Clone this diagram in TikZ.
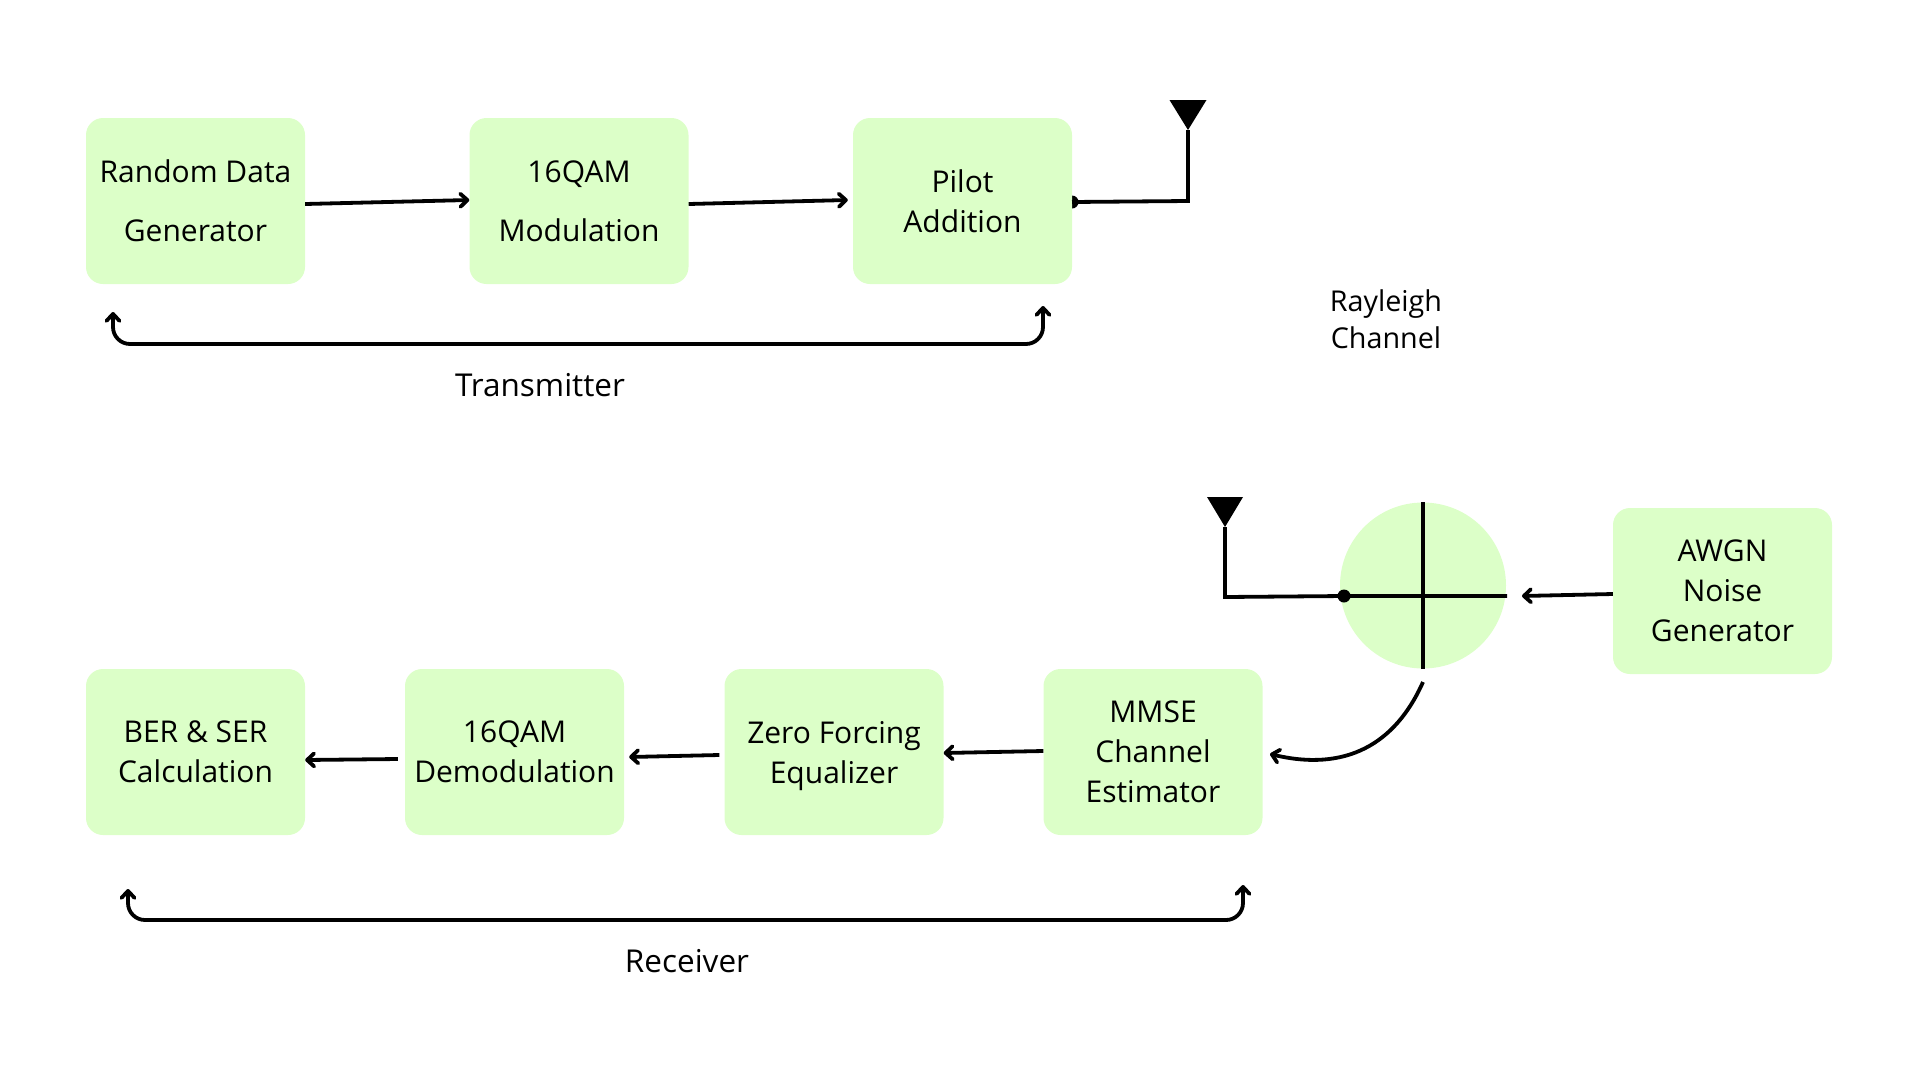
\documentclass[tikz,border=0pt]{standalone}
\usepackage{fontspec}
\setmainfont{Open Sans}
\usetikzlibrary{arrows.meta}
\definecolor{blockgreen}{HTML}{DCFFC8}
\tikzset{
    block/.style={fill=blockgreen, rounded corners=17pt, minimum width=219pt, minimum height=166pt,
        inner sep=0pt, align=center, text depth=0pt, font=\fontsize{30}{40}\selectfont},
    wideblock/.style={block, font=\fontsize{30}{59}\selectfont},
    flow/.style={line width=3.8pt, -{Straight Barb[length=7pt,width=13pt,round]}},
    bothflow/.style={flow, rounded corners=17pt, {Straight Barb[length=7pt,width=13pt,round]}-{Straight Barb[length=7pt,width=13pt,round]}},
    wire/.style={line width=3.8pt},
    caption/.style={inner sep=0pt, align=center, font=\fontsize{31.5}{40}\selectfont},
}
\begin{document}
\begin{tikzpicture}[x=1pt,y=-1pt]
    \useasboundingbox (0,0) rectangle (1920,1080);
    \fill (1072,202) circle (6.5);
    \node[wideblock] (data) at (195.5,201) {Random Data\\Generator};
    \node[wideblock] (qam) at (579,201) {16QAM\\Modulation};
    \node[block] (pilot) at (962.5,201) {Pilot\\Addition};
    \node[block] (ber) at (195.5,752) {BER \& SER\\Calculation};
    \node[block] (demod) at (514.5,752) {16QAM\\Demodulation};
    \node[block] (zf) at (834,752) {Zero Forcing\\Equalizer};
    \node[block] (mmse) at (1153,752) {MMSE\\Channel\\Estimator};
    \node[block] (awgn) at (1722.5,591) {AWGN\\Noise\\Generator};
    \node[circle, fill=blockgreen, minimum size=166pt, inner sep=0pt] (sum) at (1423,585.5) {};
    \node[caption] (tx) at (540,385) {Transmitter};
    \node[caption] (rx) at (687,961) {Receiver};
    \node[caption, font=\fontsize{28.7}{37}\selectfont] (channel) at (1386,319) {Rayleigh\\Channel};

    \coordinate (txant) at (1188,130);
    \coordinate (txcorner) at (1188,201);
    \coordinate (rxant) at (1225,527);
    \coordinate (rxcorner) at (1225,597);
    \coordinate (sumjoin) at (1344,596);
    \coordinate (sumend) at (1507,596);
    \coordinate (awgnend) at (1522,596);
    \coordinate (mmseend) at (1270,754);
    \coordinate (txleft) at (113,312);
    \coordinate (txright) at (1043,306);
    \coordinate (rxleft) at (128,889);
    \coordinate (rxright) at (1243,885);

    \draw[flow] ([yshift=-3pt]data.east) -- ([yshift=1pt]qam.west);
    \draw[flow] ([yshift=-3pt]qam.east) -- ([yshift=1pt,xshift=-5pt]pilot.west);
    \draw[wire] (1072,202) -- (txcorner) -- (txant);
    \fill (txant) -- ++(-18.5,-30) -- ++(37,0) -- cycle;
    \draw[wire] (rxant) -- (rxcorner) -- (sumjoin) -- (sumend);
    \fill (rxant) -- ++(-18,-30) -- ++(36,0) -- cycle;
    \fill (sumjoin) circle (6.5);
    \draw[wire] (sum.north) -- (sum.south);
    \draw[flow] ([yshift=-3pt]awgn.west) -- (awgnend);
    \draw[flow] (1423,682) .. controls (1395,745) and (1345,772) .. (mmseend);
    \draw[flow] ([yshift=1pt]mmse.west) -- ([yshift=-1pt]zf.east);
    \draw[flow] ([xshift=-5pt,yshift=-3pt]zf.west) -- ([xshift=5pt,yshift=-5pt]demod.east);
    \draw[flow] ([xshift=-7pt,yshift=-7pt]demod.west) -- ([yshift=-8pt]ber.east);
    \draw[bothflow] (txleft) -- (113,344) -- (1043,344) -- (txright);
    \draw[bothflow] (rxleft) -- (128,920) -- (1243,920) -- (rxright);
\end{tikzpicture}
\end{document}
